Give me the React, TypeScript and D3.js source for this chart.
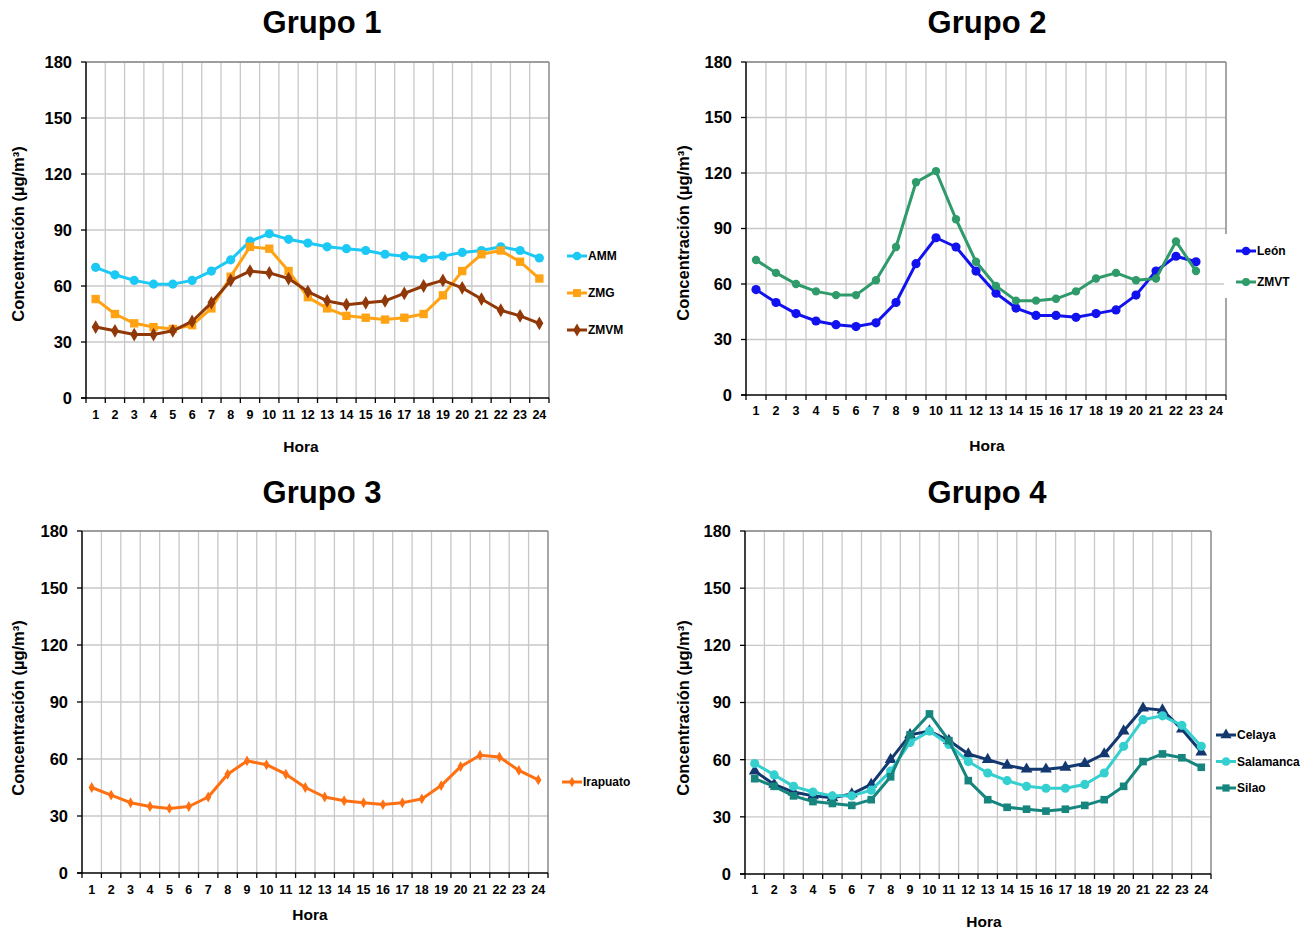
import React from "react";
import * as d3 from "d3";

// hour categories on the x axis
const HOURS = ["1", "2", "3", "4", "5", "6", "7", "8", "9", "10", "11", "12", "13", "14", "15", "16", "17", "18", "19", "20", "21", "22", "23", "24"];
const Y_TICKS = [0, 30, 60, 90, 120, 150, 180];

// Grupo 1
const AMM = [70, 66, 63, 61, 61, 63, 68, 74, 84, 88, 85, 83, 81, 80, 79, 77, 76, 75, 76, 78, 79, 81, 79, 75];
const ZMG = [53, 45, 40, 38, 37, 39, 48, 65, 81, 80, 68, 54, 48, 44, 43, 42, 43, 45, 55, 68, 77, 79, 73, 64];
const ZMVM = [38, 36, 34, 34, 36, 41, 51, 63, 68, 67, 64, 57, 52, 50, 51, 52, 56, 60, 63, 59, 53, 47, 44, 40];

// Grupo 2 (no value for hour 24)
const LEON = [57, 50, 44, 40, 38, 37, 39, 50, 71, 85, 80, 67, 55, 47, 43, 43, 42, 44, 46, 54, 67, 75, 72];
const ZMVT = [73, 66, 60, 56, 54, 54, 62, 80, 115, 121, 95, 72, 59, 51, 51, 52, 56, 63, 66, 62, 63, 83, 67];

// Grupo 3
const IRAPUATO = [45, 41, 37, 35, 34, 35, 40, 52, 59, 57, 52, 45, 40, 38, 37, 36, 37, 39, 46, 56, 62, 61, 54, 49];

// Grupo 4
const CELAYA = [54, 47, 43, 41, 40, 42, 47, 60, 73, 75, 70, 63, 60, 57, 55, 55, 56, 58, 63, 75, 87, 86, 76, 64];
const SALAMANCA = [58, 52, 46, 43, 41, 41, 44, 54, 69, 75, 68, 59, 53, 49, 46, 45, 45, 47, 53, 67, 81, 83, 78, 67];
const SILAO = [50, 46, 41, 38, 37, 36, 39, 51, 73, 84, 70, 49, 39, 35, 34, 33, 34, 36, 39, 46, 59, 63, 61, 56];

type Series = { name: string; values: number[]; color: string; symbol: d3.SymbolType; size: number; width: number };

type PanelCfg = {
  title: string;
  titleX: number;
  titleY: number;
  left: number;
  top: number;
  right: number;
  bottom: number;
  tickY: number;
  horaX: number;
  horaY: number;
  yTitleX: number;
  yTitleY: number;
  legendX: number;
  legendY: number;
  legendGap: number;
  legendBox?: [number, number, number, number];
  series: Series[];
};

const FONT = "Liberation Sans, Arial, Helvetica, sans-serif";

const panels: PanelCfg[] = [
  {
    title: "Grupo 1", titleX: 322, titleY: 33,
    left: 86, top: 62, right: 549, bottom: 398,
    tickY: 419, horaX: 301, horaY: 452, yTitleX: 18, yTitleY: 234,
    legendX: 567, legendY: 256, legendGap: 37,
    series: [
      { name: "AMM", values: AMM, color: "#1CC8F4", symbol: d3.symbolCircle, size: 66, width: 3 },
      { name: "ZMG", values: ZMG, color: "#FFA314", symbol: d3.symbolSquare, size: 70, width: 3 },
      { name: "ZMVM", values: ZMVM, color: "#903808", symbol: d3.symbolDiamond, size: 55, width: 3 },
    ],
  },
  {
    title: "Grupo 2", titleX: 987, titleY: 33,
    left: 746, top: 62, right: 1226, bottom: 395,
    tickY: 415, horaX: 987, horaY: 451, yTitleX: 683, yTitleY: 233,
    legendX: 1236, legendY: 251, legendGap: 31,
    legendBox: [1224, 234, 89, 64],
    series: [
      { name: "León", values: LEON, color: "#1212EE", symbol: d3.symbolCircle, size: 66, width: 3 },
      { name: "ZMVT", values: ZMVT, color: "#2F9A6A", symbol: d3.symbolCircle, size: 55, width: 3 },
    ],
  },
  {
    title: "Grupo 3", titleX: 322, titleY: 503,
    left: 82, top: 531, right: 548, bottom: 873,
    tickY: 894, horaX: 310, horaY: 920, yTitleX: 18, yTitleY: 708,
    legendX: 562, legendY: 782, legendGap: 26,
    series: [
      { name: "Irapuato", values: IRAPUATO, color: "#FF7012", symbol: d3.symbolDiamond, size: 34, width: 3 },
    ],
  },
  {
    title: "Grupo 4", titleX: 987, titleY: 503,
    left: 745, top: 531, right: 1211, bottom: 874,
    tickY: 894, horaX: 984, horaY: 927, yTitleX: 683, yTitleY: 708,
    legendX: 1216, legendY: 735, legendGap: 26.5,
    series: [
      { name: "Celaya", values: CELAYA, color: "#13386F", symbol: d3.symbolTriangle, size: 60, width: 3 },
      { name: "Salamanca", values: SALAMANCA, color: "#35CFD0", symbol: d3.symbolCircle, size: 66, width: 3 },
      { name: "Silao", values: SILAO, color: "#16857E", symbol: d3.symbolSquare, size: 58, width: 3 },
    ],
  },
];

function Panel({ cfg }: { cfg: PanelCfg }) {
  const x = d3.scaleBand<string>().domain(HOURS).range([cfg.left, cfg.right]);
  const y = d3.scaleLinear().domain([0, 180]).range([cfg.bottom, cfg.top]);
  const cx = (i: number) => (x(HOURS[i]) as number) + x.bandwidth() / 2;
  const line = d3
    .line<number>()
    .x((_, i) => cx(i))
    .y((d) => y(d));
  const bounds = HOURS.map((h) => x(h) as number).concat([cfg.right]);

  return (
    <g>
      <text x={cfg.titleX} y={cfg.titleY} textAnchor="middle" fontSize={31} fontWeight="bold" fontFamily={FONT}>
        {cfg.title}
      </text>

      {/* grid */}
      {Y_TICKS.slice(1).map((t) => (
        <line key={"h" + t} x1={cfg.left} x2={cfg.right} y1={y(t)} y2={y(t)} stroke="#C8C8C8" strokeWidth={1.3} />
      ))}
      {bounds.slice(1, -1).map((b, i) => (
        <line key={"v" + i} x1={b} x2={b} y1={cfg.top} y2={cfg.bottom} stroke="#C8C8C8" strokeWidth={1.3} />
      ))}
      <line x1={cfg.left} x2={cfg.right} y1={cfg.top} y2={cfg.top} stroke="#8A8A8A" strokeWidth={1.5} />
      <line x1={cfg.right} x2={cfg.right} y1={cfg.top} y2={cfg.bottom} stroke="#8A8A8A" strokeWidth={1.5} />

      {/* axes */}
      <line x1={cfg.left} x2={cfg.left} y1={cfg.top} y2={cfg.bottom} stroke="#000" strokeWidth={1.5} />
      <line x1={cfg.left - 5} x2={cfg.right} y1={cfg.bottom} y2={cfg.bottom} stroke="#000" strokeWidth={1.5} />
      {Y_TICKS.map((t) => (
        <g key={"yt" + t}>
          <line x1={cfg.left - 5} x2={cfg.left} y1={y(t)} y2={y(t)} stroke="#000" strokeWidth={1.3} />
          <text x={cfg.left - 14} y={y(t)} dy="0.36em" textAnchor="end" fontSize={16.5} fontWeight="bold" fontFamily={FONT}>
            {t}
          </text>
        </g>
      ))}
      {bounds.map((b, i) => (
        <line key={"xt" + i} x1={b} x2={b} y1={cfg.bottom} y2={cfg.bottom + 5} stroke="#000" strokeWidth={1.3} />
      ))}
      {HOURS.map((h, i) => (
        <text key={"xl" + h} x={cx(i)} y={cfg.tickY} textAnchor="middle" fontSize={12.5} fontWeight="bold" fontFamily={FONT}>
          {h}
        </text>
      ))}
      <text x={cfg.horaX} y={cfg.horaY} textAnchor="middle" fontSize={15.5} fontWeight="bold" fontFamily={FONT}>
        Hora
      </text>
      <text
        transform={`translate(${cfg.yTitleX},${cfg.yTitleY}) rotate(-90)`}
        dy="0.36em"
        textAnchor="middle"
        fontSize={16.5}
        fontWeight="bold"
        fontFamily={FONT}
      >
        Concentración (µg/m³)
      </text>

      {/* series */}
      {cfg.series.map((s) => {
        const sym = d3.symbol(s.symbol, s.size)() as string;
        return (
          <g key={s.name}>
            <path d={line(s.values) as string} fill="none" stroke={s.color} strokeWidth={s.width} strokeLinejoin="round" />
            {s.values.map((v, i) => (
              <path key={i} d={sym} transform={`translate(${cx(i)},${y(v)})`} fill={s.color} />
            ))}
          </g>
        );
      })}

      {/* legend */}
      {cfg.legendBox && (
        <rect x={cfg.legendBox[0]} y={cfg.legendBox[1]} width={cfg.legendBox[2]} height={cfg.legendBox[3]} fill="#fff" />
      )}
      {cfg.series.map((s, i) => {
        const ly = cfg.legendY + i * cfg.legendGap;
        const sym = d3.symbol(s.symbol, s.size * 0.9)() as string;
        return (
          <g key={"lg" + s.name} transform={`translate(${cfg.legendX},${ly})`}>
            <line x1={0} x2={20} y1={0} y2={0} stroke={s.color} strokeWidth={3} />
            <path d={sym} transform="translate(10,0)" fill={s.color} />
            <text x={21} y={0} dy="0.36em" fontSize={12} fontWeight="bold" fontFamily={FONT}>
              {s.name}
            </text>
          </g>
        );
      })}
    </g>
  );
}

export default function App() {
  return (
    <svg
      width={1313}
      height={931}
      style={{ position: "absolute", left: 0, top: 0, background: "#fff" }}
    >
      <rect width={1313} height={931} fill="#fff" />
      {panels.map((p) => (
        <Panel key={p.title} cfg={p} />
      ))}
    </svg>
  );
}
